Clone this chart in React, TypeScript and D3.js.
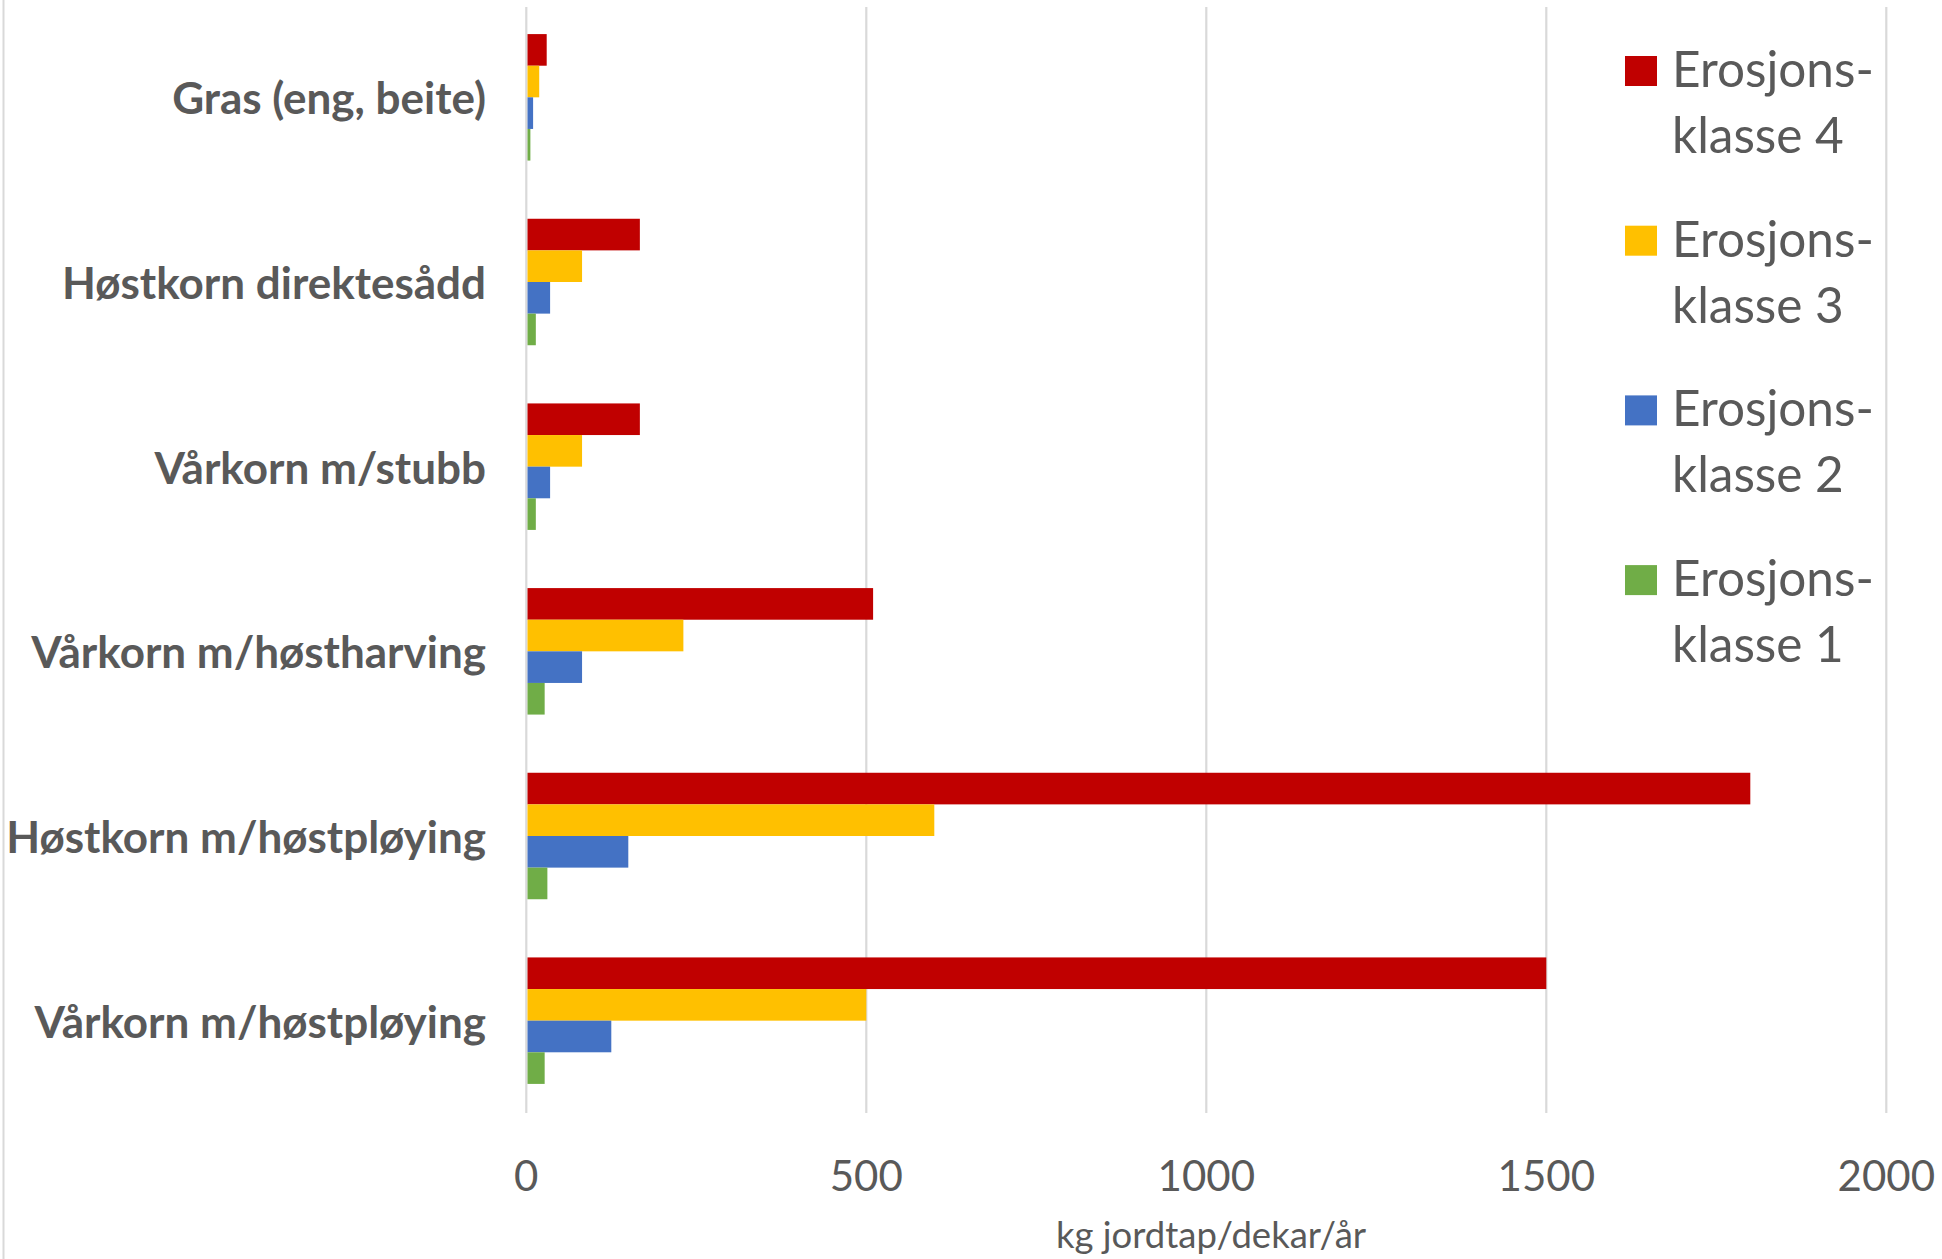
import React from "react";
import * as d3 from "d3";

const categories = [
  "Gras (eng, beite)",
  "Høstkorn direktesådd",
  "Vårkorn m/stubb",
  "Vårkorn m/høstharving",
  "Høstkorn m/høstpløying",
  "Vårkorn m/høstpløying",
];
const seriesNames = ["Erosjonsklasse 4", "Erosjonsklasse 3", "Erosjonsklasse 2", "Erosjonsklasse 1"];
const legendLines = [
  ["Erosjons-", "klasse 4"],
  ["Erosjons-", "klasse 3"],
  ["Erosjons-", "klasse 2"],
  ["Erosjons-", "klasse 1"],
];
const klasse4 = [30, 167, 167, 510, 1800, 1500];
const klasse3 = [19, 82, 82, 231, 600, 500];
const klasse2 = [10, 35, 35, 82, 150, 125];
const klasse1 = [6, 14, 14, 27, 31, 27];
const seriesValues = [klasse4, klasse3, klasse2, klasse1];
const colors = ["#C00000", "#FFC000", "#4472C4", "#70AD47"];
const xTicks = [0, 500, 1000, 1500, 2000];
const xTitle = "kg jordtap/dekar/år";

const W = 1942;
const H = 1259;
const FONT = "Lato, 'Open Sans', sans-serif";
const TEXT = "#595959";
const GRID = "#D9D9D9";

export default function App() {
  const plotLeft = 526.3;
  const plotRight = 1886.3;
  const plotTop = 5;
  const plotBottom = 1113;

  const x = d3.scaleLinear().domain([0, 2000]).range([plotLeft, plotRight]);
  const y = d3.scaleBand<string>().domain(categories).range([plotTop, plotBottom]).padding(0);
  const yInner = d3
    .scaleBand<string>()
    .domain(seriesNames)
    .range([0, y.bandwidth()])
    .paddingInner(0)
    .paddingOuter(0.92);

  return (
    <svg
      width={W}
      height={H}
      style={{ position: "absolute", left: 0, top: 0, background: "#fff" }}
      fontFamily={FONT}
    >
      <rect x={0} y={0} width={W} height={H} fill="#fff" />
      <line x1={3.5} x2={3.5} y1={0} y2={H} stroke={GRID} strokeWidth={2} />
      {xTicks.map((t) => (
        <line key={"g" + t} x1={x(t)} x2={x(t)} y1={7} y2={plotBottom} stroke={GRID} strokeWidth={2.2} />
      ))}
      {categories.map((c, ci) => (
        <g key={c} transform={`translate(0,${y(c)})`}>
          {seriesNames.map((s, si) => (
            <rect
              key={s}
              x={x(0) + 1.2}
              y={yInner(s)!}
              width={Math.max(0, x(seriesValues[si][ci]) - x(0) - 1.2)}
              height={yInner.bandwidth()}
              fill={colors[si]}
            />
          ))}
          <text
            x={486}
            y={y.bandwidth() / 2}
            textAnchor="end"
            dominantBaseline="central"
            fontSize={44}
            fontWeight={700}
            fill={TEXT}
          >
            {c}
          </text>
        </g>
      ))}
      {xTicks.map((t) => (
        <text key={"t" + t} x={x(t)} y={1191} textAnchor="middle" fontSize={42} fill={TEXT}>
          {t}
        </text>
      ))}
      <text x={1211} y={1248} textAnchor="middle" fontSize={36.5} fill={TEXT}>
        {xTitle}
      </text>
      {legendLines.map((lines, i) => {
        const base = 87 + i * 169.7;
        return (
          <g key={"l" + i}>
            <rect x={1625} y={base - 31} width={32} height={30} fill={colors[i]} />
            <text x={1672} y={base} fontSize={49.5} fill={TEXT}>
              {lines[0]}
            </text>
            <text x={1672} y={base + 66} fontSize={49.5} fill={TEXT}>
              {lines[1]}
            </text>
          </g>
        );
      })}
    </svg>
  );
}
